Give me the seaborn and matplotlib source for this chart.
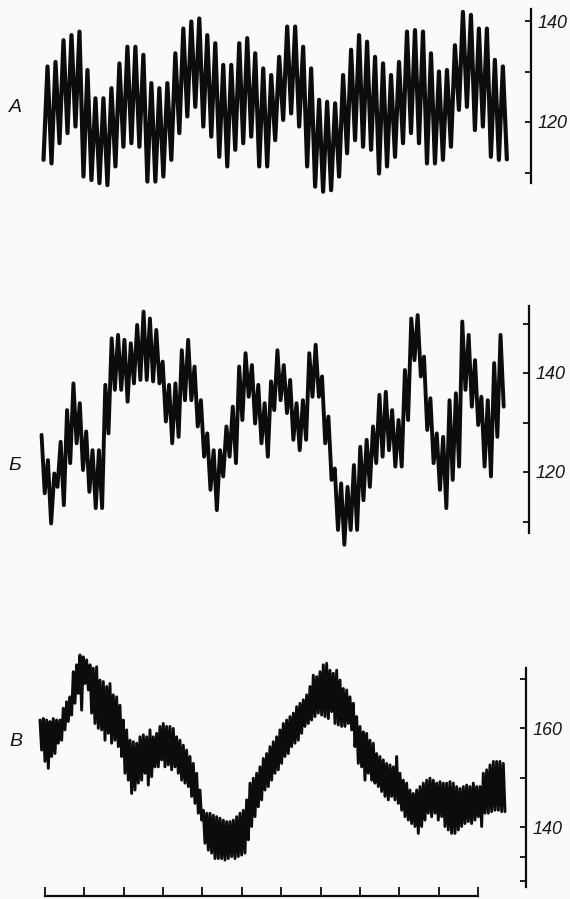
import numpy as np
import pandas as pd
import matplotlib
matplotlib.use("Agg")
import matplotlib.pyplot as plt
import seaborn as sns

# ---------------- data ----------------
# Trace А: alternating beat extremes (troughs bracket the peaks)
a_peaks = [131.0, 131.9, 136.2, 137.2, 137.9, 130.3, 124.7, 124.7, 126.7, 131.6,
           134.9, 134.9, 133.3, 127.7, 126.7, 127.7, 133.6, 138.5, 139.9, 140.5,
           137.2, 135.6, 131.3, 131.3, 135.6, 136.6, 133.6, 130.6, 129.3, 132.9,
           138.9, 138.9, 134.9, 130.6, 124.4, 124.0, 123.7, 129.3, 134.3, 137.2,
           135.9, 132.9, 131.6, 129.3, 131.9, 137.9, 138.2, 137.9, 133.6, 130.0,
           130.3, 135.2, 141.8, 141.2, 138.5, 138.5, 132.3, 131.0]
a_troughs = [112.5, 111.8, 115.8, 117.8, 119.1, 109.2, 108.5, 107.9, 107.5, 111.2,
             115.1, 115.8, 115.1, 108.2, 108.2, 109.2, 112.5, 117.8, 121.1, 123.0,
             119.1, 117.1, 113.1, 111.2, 114.5, 115.8, 117.1, 111.2, 111.2, 116.4,
             120.4, 121.7, 119.1, 111.2, 107.2, 106.2, 106.5, 109.2, 113.8, 116.4,
             115.1, 114.5, 109.8, 111.2, 113.1, 115.8, 117.8, 115.8, 111.8, 111.8,
             112.5, 115.1, 122.4, 123.0, 118.4, 119.1, 113.1, 112.5, 112.6]
a_span = (-0.03, 11.73)

# Trace Б: successive extremes
b_values = [127.5, 115.7, 122.4, 109.6, 119.7, 117.0, 126.1, 113.3, 132.5, 121.8,
            137.9, 125.8, 133.9, 120.4, 128.2, 116.0, 124.4, 112.7, 124.4, 112.7,
            137.6, 127.8, 147.0, 136.6, 147.7, 136.6, 146.7, 134.2, 146.0, 137.9,
            149.7, 138.6, 152.4, 138.6, 151.0, 138.3, 148.7, 137.9, 142.3, 130.2,
            137.6, 125.8, 137.9, 127.1, 144.6, 134.5, 146.7, 134.5, 141.3, 129.2,
            134.5, 123.1, 127.8, 116.4, 124.4, 112.3, 124.4, 119.1, 129.2, 123.1,
            133.2, 121.8, 141.3, 130.5, 144.0, 135.2, 141.6, 129.8,
            137.6, 125.8, 133.9, 123.1, 138.3, 132.5, 144.6, 134.5, 141.6, 131.9,
            138.6, 126.5, 133.9, 124.4, 134.5, 126.5, 144.0, 135.2, 145.7, 135.2,
            139.3, 125.8, 131.2, 118.4, 120.7, 108.3, 117.7, 105.3, 117.0, 108.3,
            121.4, 108.3, 125.1, 114.3, 126.5, 117.0, 129.2, 121.8, 135.6, 123.1,
            136.2, 124.4, 132.5, 121.1, 130.5, 121.1, 140.6, 130.5, 151.0, 142.6,
            151.7, 139.3, 143.3, 128.5, 134.9, 121.8, 127.8, 116.4, 127.1, 112.7,
            134.5, 118.4, 135.9, 121.1, 150.4, 136.6, 147.7, 133.2, 142.6, 129.5,
            135.2, 121.1, 134.5, 119.1, 142.0, 127.1, 147.7, 133.2]
b_span = (-0.08, 11.65)

# Trace В: upper and lower beat values of the fast oscillation
c_hi = [161.7, 162.0, 161.7, 161.4, 162.0, 161.7, 161.7, 164.1, 165.4, 166.4,
        171.5, 172.9, 174.9, 174.5, 173.9, 172.9, 172.2, 172.5, 169.8, 169.5,
        168.5, 169.1, 166.8, 166.4, 164.7, 161.7, 159.7, 157.6, 157.3, 157.0,
        158.3, 158.7, 158.3, 159.7, 158.3, 159.0, 160.4, 161.0, 160.4, 160.4,
        160.0, 158.3, 157.6, 156.6, 155.6, 154.3, 152.9, 150.9, 147.5, 143.4,
        142.8, 142.8, 142.4, 142.1, 141.8, 141.4, 141.1, 141.1, 141.4, 142.1,
        142.8, 143.4, 145.5,
        148.9, 149.9, 150.9, 152.2, 153.9, 154.9, 156.3, 157.3, 158.3, 159.7,
        161.0, 161.7, 162.4, 163.1, 164.4, 165.1, 165.8, 166.8, 168.5, 170.8,
        170.5, 171.5, 172.9, 173.2, 171.8, 171.2, 171.8, 169.8, 168.1, 167.8,
        166.4, 165.1, 162.4, 160.4, 159.3, 159.0, 157.6, 157.0, 154.9, 154.3,
        153.6, 152.9, 152.6, 152.2, 154.3, 150.9, 149.5, 148.9, 147.5, 146.8,
        147.5, 148.2, 148.9, 149.5, 149.9, 149.5, 148.9, 149.2, 148.9, 148.9,
        149.2, 148.9, 148.2, 147.8, 148.2, 148.5, 148.2, 148.9, 148.2, 148.2,
        150.9, 151.6, 152.6, 153.3, 153.3, 153.3, 152.9]
c_lo = [155.6, 153.3, 151.9, 154.3, 154.9, 157.0, 157.6, 159.7, 161.4, 162.7,
        165.1, 167.1, 163.7, 169.1, 167.8, 163.1, 161.0, 160.0, 159.7, 157.6,
        159.0, 157.0, 157.6, 156.3, 154.3, 150.9, 149.5, 146.8, 147.5, 148.9,
        149.5, 150.9, 148.5, 150.2, 152.2, 152.2, 153.6, 152.2, 152.6, 151.6,
        152.2, 150.9, 149.5, 148.9, 148.2, 146.2, 144.8, 142.8, 141.4, 136.7,
        135.3, 134.7, 133.6, 133.6, 133.6, 133.3, 133.6, 134.0, 133.6, 134.0,
        134.3, 134.7, 137.4,
        140.1, 142.1, 144.1, 145.5, 147.5, 148.2, 149.5, 150.9, 151.6, 152.9,
        154.3, 154.9, 156.3, 157.0, 157.6, 159.0, 160.4, 161.0, 161.7, 162.4,
        163.1, 162.7, 162.4, 162.0, 163.4, 161.0, 160.7, 160.4, 160.4, 161.0,
        159.7, 156.3, 152.9, 152.2, 149.5, 150.9, 149.5, 148.9, 148.2, 147.2,
        146.2, 145.5, 146.2, 145.5, 144.8, 143.4, 142.1, 141.4, 140.7, 140.1,
        138.7, 140.1, 141.4, 142.8, 142.1, 142.8, 141.4, 142.1, 140.1, 139.4,
        138.7, 138.7, 139.4, 140.1, 140.7, 141.1, 140.7, 141.4, 142.1, 140.1,
        142.8, 142.8, 143.1, 143.4, 143.4, 143.1, 143.1]
c_span = (-0.12, 11.64)

time_ticks = list(range(12))
panel_letters = ["А", "Б", "В"]
a_yticks, a_ylabels = [110, 120, 130, 140], ["", "120", "", "140"]
b_yticks, b_ylabels = [110, 120, 130, 140, 150], ["", "120", "", "140", ""]
c_yticks, c_ylabels = [129, 134, 140, 150, 160, 170], ["", "", "140", "", "160", ""]

# ---------------- build series ----------------
a_y = np.empty(len(a_peaks) + len(a_troughs))
a_y[0::2] = a_troughs
a_y[1::2] = a_peaks
df_a = pd.DataFrame({"t": np.linspace(*a_span, len(a_y)), "v": a_y})

df_b = pd.DataFrame({"t": np.linspace(*b_span, len(b_values)), "v": b_values})

t_c = np.linspace(*c_span, len(c_hi))
dt_c = t_c[1] - t_c[0]
c_t = np.empty(2 * len(c_hi))
c_v = np.empty(2 * len(c_hi))
c_t[0::2], c_t[1::2] = t_c, t_c + dt_c / 2
c_v[0::2], c_v[1::2] = c_hi, c_lo
df_c = pd.DataFrame({"t": c_t, "v": c_v})

# ---------------- figure ----------------
sns.set_style("white")
plt.rcParams["font.family"] = ["Liberation Sans", "DejaVu Sans"]

W, H = 570, 899
bg = "#fafaf8"
ink = "#0c0c0c"
fig = plt.figure(figsize=(W / 100, H / 100), dpi=100)
fig.patch.set_facecolor(bg)

T0_PX, PX_PER_T = 44.7, 39.4   # horizontal time scale in pixels


def panel(spine_px, top_px, bottom_px, v0, y0_px, px_per_unit):
    left_px = 20
    ax = fig.add_axes([left_px / W, 1 - bottom_px / H,
                       (spine_px - left_px) / W, (bottom_px - top_px) / H])
    ax.set_facecolor("none")
    ax.set_xlim((left_px - T0_PX) / PX_PER_T, (spine_px - T0_PX) / PX_PER_T)
    ax.set_ylim(v0 - (bottom_px - y0_px) / px_per_unit,
                v0 + (y0_px - top_px) / px_per_unit)
    for s in ("left", "top", "bottom"):
        ax.spines[s].set_visible(False)
    ax.spines["right"].set_linewidth(1.6)
    ax.spines["right"].set_color(ink)
    ax.yaxis.tick_right()
    ax.set_xticks([])
    return ax


def style_y(ax, ticks, labels, bounds):
    ax.spines["right"].set_bounds(*bounds)
    ax.set_yticks(ticks)
    ax.set_yticklabels(labels, fontstyle="italic", fontsize=13)
    ax.tick_params(axis="y", which="both", right=True, left=False,
                   direction="in", length=4.5, width=1.3,
                   pad=5, colors=ink, labelcolor="#151515")


# Panel А
ax_a = panel(530.7, 0, 200, 120, 122, 5.05)
sns.lineplot(data=df_a, x="t", y="v", ax=ax_a, color=ink, linewidth=3.0,
             estimator=None, sort=False, legend=False)
style_y(ax_a, a_yticks, a_ylabels, (107.9, 142.4))

# Panel Б
ax_b = panel(529, 290, 560, 120, 472, 4.95)
sns.lineplot(data=df_b, x="t", y="v", ax=ax_b, color=ink, linewidth=2.8,
             estimator=None, sort=False, legend=False)
style_y(ax_b, b_yticks, b_ylabels, (107.7, 153.5))

# Panel В with the time base
ax_c = panel(526, 640, 896, 140, 827, 4.93)
sns.lineplot(data=df_c, x="t", y="v", ax=ax_c, color=ink, linewidth=2.1,
             estimator=None, sort=False, legend=False)
style_y(ax_c, c_yticks, c_ylabels, (127.8, 172.2))
ax_c.spines["bottom"].set_visible(True)
ax_c.spines["bottom"].set_linewidth(1.6)
ax_c.spines["bottom"].set_color(ink)
ax_c.spines["bottom"].set_bounds(time_ticks[0], time_ticks[-1])
ax_c.set_xticks(time_ticks)
ax_c.set_xticklabels([])
ax_c.tick_params(axis="x", bottom=True, top=False, direction="in",
                 length=6.5, width=1.3, colors=ink)

for ax in (ax_a, ax_b, ax_c):
    ax.set_xlabel("")
    ax.set_ylabel("")

# Panel letters
for letter, (x_px, y_px) in zip(panel_letters, [(15, 108), (15, 465), (16, 741)]):
    fig.text(x_px / W, 1 - y_px / H, letter, fontsize=14, fontstyle="italic",
             ha="center", va="center", color="#151515")

fig.savefig("out.png", dpi=100, facecolor=bg)
